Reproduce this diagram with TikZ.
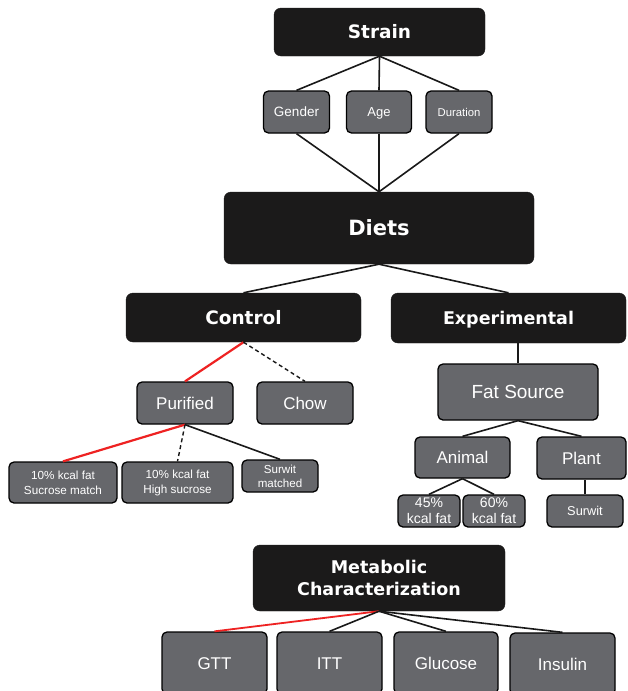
\documentclass[tikz,border=0pt]{standalone}
\usepackage{fontspec}
\setmainfont{Liberation Sans}
\newfontfamily\boldfam{DejaVu Sans}
\definecolor{darkbox}{HTML}{1B1A1A}
\definecolor{greybox}{HTML}{66676B}
\definecolor{redline}{HTML}{EE2222}
\begin{document}
\begin{tikzpicture}[x=1pt,y=-1pt,
  dbox/.style={draw=darkbox, fill=darkbox, rounded corners=7pt, text=white, align=center, inner sep=0pt, font=\boldfam\bfseries},
  gbox/.style={draw=black, line width=1.3pt, fill=greybox, rounded corners=5pt, text=white, align=center, inner sep=0pt},
  oneline/.style={text height=#1, text depth=0pt},
  conn/.style={line width=1.6pt, draw=black!90},
  redconn/.style={line width=2.2pt, draw=redline},
  dashconn/.style={line width=1.4pt, draw=black!90, dashed, dash pattern=on 4pt off 3pt}]
\useasboundingbox (0,0) rectangle (628,691);
\clip (0,0) rectangle (628,691);
\fill[white] (0,0) rectangle (628,691);
% dark boxes
\node[dbox, oneline=13.5pt, minimum width=211pt, minimum height=48pt, font=\boldfam\bfseries\fontsize{18.5}{20}\selectfont] (strain) at (379.5,32) {Strain};
\node[dbox, oneline=15.3pt, minimum width=310pt, minimum height=72pt, font=\boldfam\bfseries\fontsize{21}{24}\selectfont] (diets) at (379,228) {Diets};
\node[dbox, oneline=13.5pt, minimum width=235pt, minimum height=49pt, font=\boldfam\bfseries\fontsize{18.5}{20}\selectfont] (control) at (243.5,317.5) {Control};
\node[dbox, oneline=12.8pt, minimum width=235pt, minimum height=50pt, font=\boldfam\bfseries\fontsize{17.5}{20}\selectfont] (exp) at (508.5,318) {Experimental};
\node[dbox, minimum width=252pt, minimum height=66pt, font=\boldfam\bfseries\fontsize{17.5}{22}\selectfont] (metab) at (379,578) {Metabolic\\Characterization};
% grey boxes
\node[gbox, oneline=9.7pt, minimum width=66pt, minimum height=42pt, font=\fontsize{13.5}{15}\selectfont] (gender) at (296.5,112) {Gender};
\node[gbox, oneline=9.4pt, minimum width=65pt, minimum height=42pt, font=\fontsize{13}{15}\selectfont] (age) at (379,112) {Age};
\node[gbox, oneline=8.1pt, minimum width=66pt, minimum height=42pt, font=\fontsize{11.3}{14}\selectfont] (duration) at (459,112) {Duration};
\node[gbox, oneline=12.2pt, minimum width=96pt, minimum height=42pt, font=\fontsize{17}{19}\selectfont] (purified) at (185,403) {Purified};
\node[gbox, oneline=12.2pt, minimum width=96pt, minimum height=42pt, font=\fontsize{17}{19}\selectfont] (chow) at (305,403) {Chow};
\node[gbox, minimum width=108pt, minimum height=41pt, font=\fontsize{11.7}{15}\selectfont] (suc) at (63,482.5) {10\% kcal fat\\Sucrose match};
\node[gbox, minimum width=111pt, minimum height=41pt, font=\fontsize{11.7}{15}\selectfont] (high) at (177.5,482.5) {10\% kcal fat\\High sucrose};
\node[gbox, minimum width=76pt, minimum height=32pt, font=\fontsize{11.6}{14}\selectfont] (smatch) at (280,476) {Surwit\\matched};
\node[gbox, oneline=13.6pt, minimum width=160pt, minimum height=56pt, font=\fontsize{19}{21}\selectfont] (fat) at (518,392) {Fat Source};
\node[gbox, oneline=12.2pt, minimum width=95pt, minimum height=41pt, font=\fontsize{17}{19}\selectfont] (animal) at (462.5,457.5) {Animal};
\node[gbox, oneline=12.2pt, minimum width=89pt, minimum height=42pt, font=\fontsize{17}{19}\selectfont] (plant) at (581.5,458) {Plant};
\node[gbox, minimum width=62pt, minimum height=32pt, font=\fontsize{14}{16}\selectfont] (f45) at (429,511) {45\%\\kcal fat};
\node[gbox, minimum width=62pt, minimum height=32pt, font=\fontsize{14}{16}\selectfont] (f60) at (494,511) {60\%\\kcal fat};
\node[gbox, oneline=9.2pt, minimum width=76pt, minimum height=32pt, font=\fontsize{12.8}{15}\selectfont] (surwit) at (585,511) {Surwit};
\node[gbox, oneline=12.2pt, minimum width=105pt, minimum height=62pt, font=\fontsize{17}{19}\selectfont] (gtt) at (214.5,663) {GTT};
\node[gbox, oneline=12.2pt, minimum width=105pt, minimum height=62pt, font=\fontsize{17}{19}\selectfont] (itt) at (329.5,663) {ITT};
\node[gbox, oneline=12.2pt, minimum width=104pt, minimum height=62pt, font=\fontsize{17}{19}\selectfont] (glucose) at (446,663) {Glucose};
\node[gbox, oneline=12.2pt, minimum width=105pt, minimum height=62pt, font=\fontsize{17}{19}\selectfont] (insulin) at (562.5,664) {Insulin};
% connectors
\draw[conn] (strain.south) -- (gender.north);
\draw[conn] (strain.south) -- (age.north);
\draw[conn] (strain.south) -- (duration.north);
\draw[conn] (gender.south) -- (diets.north);
\draw[conn] (age.south) -- (diets.north);
\draw[conn] (duration.south) -- (diets.north);
\draw[conn] (diets.south) -- (control.north);
\draw[conn] (diets.south) -- (exp.north);
\draw[redconn] (control.south) -- (purified.north);
\draw[dashconn] (control.south) -- (chow.north);
\draw[redconn] (purified.south) -- (suc.north);
\draw[dashconn] (purified.south) -- (high.north);
\draw[conn] (purified.south) -- (smatch.north);
\draw[conn] (fat.north) -- (fat.north |- exp.south);
\draw[conn] (fat.south) -- (animal.north);
\draw[conn] (fat.south) -- (plant.north);
\draw[conn] (animal.south) -- (f45.north);
\draw[conn] (animal.south) -- (f60.north);
\draw[conn] (surwit.north) -- (surwit.north |- plant.south);
\draw[redconn, line width=1.8pt] (metab.south) -- (gtt.north);
\draw[conn] (metab.south) -- (itt.north);
\draw[conn] (metab.south) -- (glucose.north);
\draw[conn] (metab.south) -- (insulin.north);
\end{tikzpicture}
\end{document}
